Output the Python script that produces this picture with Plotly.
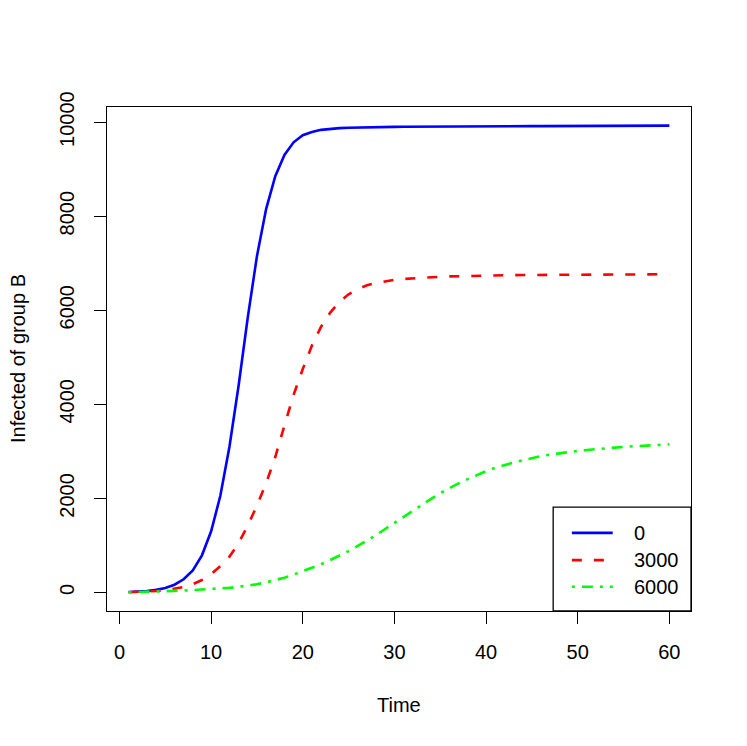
import plotly.graph_objects as go

# time steps and infected counts of group B for three scenarios
time = list(range(1, 61))

infected_0 = [
    10, 18, 32, 55, 95, 165, 280, 470, 790, 1300,
    2050, 3100, 4400, 5850, 7150, 8150, 8850, 9300, 9570, 9720,
    9790, 9835, 9860, 9872, 9880, 9886, 9890, 9893, 9896, 9898,
    9900, 9902, 9903, 9904, 9905, 9906, 9907, 9908, 9909, 9910,
    9911, 9912, 9912, 9913, 9914, 9914, 9915, 9916, 9916, 9917,
    9918, 9918, 9919, 9920, 9920, 9921, 9922, 9922, 9923, 9924,
]
infected_3000 = [
    5, 10, 18, 30, 48, 75, 115, 175, 265, 390,
    560, 760, 1050, 1420, 1850, 2320, 2880, 3550, 4200, 4750,
    5250, 5650, 5950, 6180, 6340, 6450, 6530, 6580, 6620, 6645,
    6665, 6680, 6695, 6705, 6712, 6720, 6726, 6731, 6735, 6739,
    6742, 6745, 6747, 6749, 6751, 6752, 6753, 6754, 6755, 6756,
    6757, 6758, 6759, 6760, 6761, 6762, 6762, 6763, 6764, 6765,
]
infected_6000 = [
    3, 7, 12, 18, 25, 32, 40, 50, 60, 72,
    85, 100, 120, 145, 175, 215, 260, 315, 380, 450,
    520, 600, 690, 780, 880, 990, 1100, 1220, 1350, 1480,
    1610, 1740, 1870, 1990, 2110, 2220, 2320, 2410, 2500, 2580,
    2650, 2710, 2760, 2810, 2860, 2900, 2930, 2960, 2990, 3010,
    3030, 3050, 3065, 3080, 3095, 3108, 3120, 3130, 3140, 3148,
]

scenarios = ["0", "3000", "6000"]
series = [infected_0, infected_3000, infected_6000]
colors = ["#0000FF", "#FF0000", "#00FF00"]
dashes = ["solid", "10px,12px", "3px,7px,11px,7px"]

x_ticks = [0, 10, 20, 30, 40, 50, 60]
y_ticks = [0, 2000, 4000, 6000, 8000, 10000]

FONT = "Liberation Sans, Arial, Helvetica, sans-serif"
FS = 20

fig = go.Figure()
for name, ys, color, dash in zip(scenarios, series, colors, dashes):
    fig.add_trace(
        go.Scatter(
            x=time,
            y=ys,
            mode="lines",
            name=name,
            line=dict(color=color, width=2.6, dash=dash),
            showlegend=False,
        )
    )

# R-style 4% axis extension
x_min, x_max = min(time), max(time)
y_all = infected_0 + infected_3000 + infected_6000
y_min, y_max = min(y_all), max(y_all)
x_pad = 0.04 * (x_max - x_min)
y_pad = 0.04 * (y_max - y_min)

# legend box drawn like base R legend(), bottom right
fig.add_shape(
    type="rect", xref="paper", yref="paper",
    x0=0.764, x1=1.0, y0=0.0, y1=0.206,
    line=dict(color="black", width=1.3), fillcolor="white", layer="above",
)
row_y = [0.155, 0.101, 0.048]
for name, color, dash, ry in zip(scenarios, colors, dashes, row_y):
    fig.add_shape(
        type="line", xref="paper", yref="paper",
        x0=0.796, x1=0.866, y0=ry, y1=ry,
        line=dict(color=color, width=2.6, dash=dash), layer="above",
    )
    fig.add_annotation(
        xref="paper", yref="paper", x=0.899, y=ry,
        text=name, showarrow=False, xanchor="left", yanchor="middle",
        font=dict(size=FS, color="black", family=FONT),
    )

# axis titles placed like R's mtext lines
fig.add_annotation(
    xref="paper", yref="paper", x=0.5, y=0, yshift=-94,
    text="Time", showarrow=False, xanchor="center", yanchor="middle",
    font=dict(size=FS, color="black", family=FONT),
)
fig.add_annotation(
    xref="paper", yref="paper", x=0, y=0.5, xshift=-89, textangle=-90,
    text="Infected of group B", showarrow=False, xanchor="center", yanchor="middle",
    font=dict(size=FS, color="black", family=FONT),
)

# page body keeps an 8px margin, so the figure is shrunk by 8px on each axis
fig.update_layout(
    width=739,
    height=738,
    paper_bgcolor="white",
    plot_bgcolor="white",
    margin=dict(l=99, r=56, t=99, b=135, autoexpand=False),
    font=dict(family=FONT, size=FS, color="black"),
)
fig.update_xaxes(
    range=[x_min - x_pad, x_max + x_pad],
    tickvals=x_ticks,
    ticktext=[str(v) for v in x_ticks],
    ticks="outside", ticklen=12, tickwidth=1.2, tickcolor="black",
    showline=True, linecolor="black", linewidth=1.3, mirror=True,
    showgrid=False, zeroline=False, automargin=False,
    ticklabelstandoff=11,
)
fig.update_yaxes(
    range=[y_min - y_pad, y_max + y_pad],
    tickvals=y_ticks,
    ticktext=[str(v) for v in y_ticks],
    tickangle=-90,
    ticks="outside", ticklen=12, tickwidth=1.2, tickcolor="black",
    showline=True, linecolor="black", linewidth=1.3, mirror=True,
    showgrid=False, zeroline=False, automargin=False,
    ticklabelstandoff=12,
)

fig.write_html("out.html")
